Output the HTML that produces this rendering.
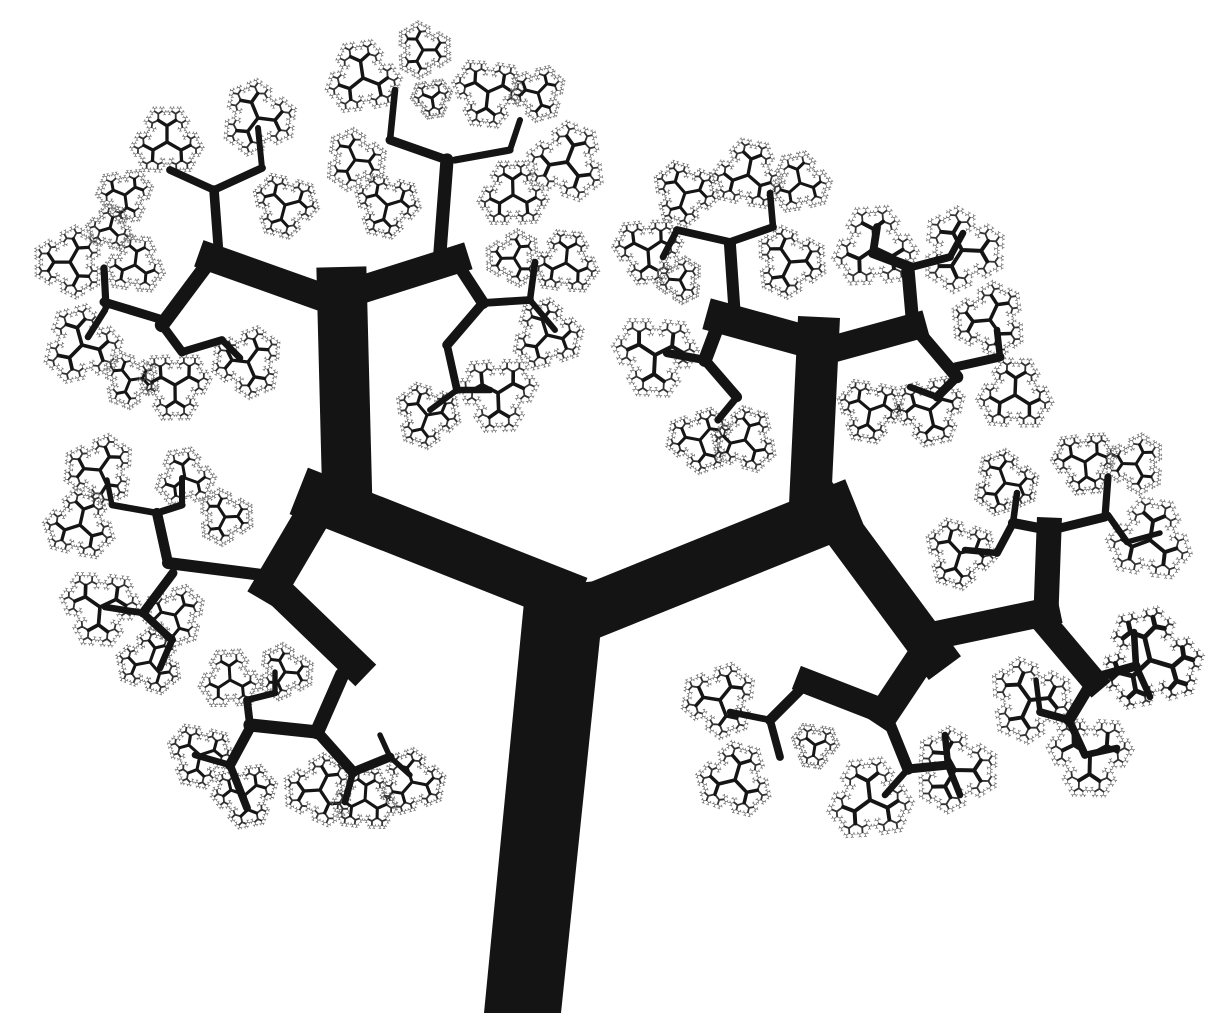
<!DOCTYPE html>
<html><head><meta charset="utf-8"><title>Fractal tree</title>
<style>html,body{margin:0;padding:0;background:#fff;}svg{display:block;}</style>
</head><body>
<svg id="s" xmlns="http://www.w3.org/2000/svg" width="1219" height="1024" viewBox="0 0 1219 1024">
<rect width="1219" height="1024" fill="#fff"/>
<g id="blobs"></g>
<g id="branches"></g>
</svg>
<script>
const trunkPts = [[484,1013],[561,1013],[606,580],[548,586],[524,602]];
const segs = [
[555,592,322,500,50],[322,500,272,585,36],[272,585,355,665,30],[347,488,342,292,50],
[330,300,212,258,28],[212,258,162,325,24],[219,257,214,190,16],[214,190,170,170,13],[214,190,262,168,13],[262,168,258,128,10],
[162,325,182,352,15],[182,352,222,340,13],[222,340,240,358,11],[163,320,104,302,15],[106,307,104,268,12],[105,310,88,337,11],
[335,298,455,260,28],[455,260,483,303,20],[483,303,447,345,16],[447,345,457,390,13],[440,252,447,160,22],[447,160,390,140,15],[390,140,395,90,11],[455,160,510,150,12],[510,150,520,120,10],
[483,303,530,300,13],[530,300,535,262,11],[530,300,555,330,10],[457,390,490,390,11],[457,390,430,410,10],
[262,575,168,563,20],[168,563,157,513,17],[157,513,182,505,12],[182,505,182,478,10],[157,513,112,505,11],[112,505,107,480,9],
[173,573,143,613,15],[143,613,172,640,13],[172,640,160,668,11],[143,613,105,607,11],
[342,675,317,732,24],[317,732,250,725,22],[250,725,247,700,13],[247,700,275,693,11],[275,693,275,672,9],
[250,728,230,765,17],[230,765,247,808,13],[230,765,195,755,11],
[320,735,353,772,18],[353,772,390,757,15],[353,772,345,802,11],[390,757,380,735,9],[390,757,410,775,9],
[612,603,830,515,55],[828,510,933,652,40],[925,652,885,712,30],[885,712,808,682,25],
[808,682,770,720,17],[770,720,780,757,13],[770,720,730,712,11],
[885,712,908,769,19],[908,769,948,765,15],[908,769,885,795,11],[948,765,945,735,11],[948,765,960,795,11],
[810,505,818,338,42],[820,345,722,318,32],[720,320,705,360,23],[705,360,737,397,17],[737,397,718,420,12],[705,360,667,353,14],
[735,318,730,245,20],[730,242,677,230,13],[730,242,773,227,13],[773,227,770,193,11],[677,230,663,257,11],
[833,349,913,327,27],[913,327,908,270,22],[910,267,873,253,17],[873,253,877,227,13],[912,267,950,257,13],[950,257,963,233,11],
[917,330,957,377,21],[957,377,937,397,15],[937,397,910,387,11],[955,367,1000,357,15],[1000,357,997,330,11],
[932,636,1046,612,28],[1046,612,1049,530,25],[1049,530,1013,523,17],[1013,523,997,553,13],[997,553,965,550,11],[1013,523,1017,493,11],
[1052,530,1105,517,15],[1105,517,1108,477,12],[1108,515,1127,542,11],[1127,542,1160,533,9],
[1044,622,1093,680,25],[1093,680,1069,720,19],[1069,720,1040,712,13],[1040,712,1036,680,9],
[1093,678,1136,666,15],[1136,666,1134,632,11],[1136,666,1150,697,11],[1069,720,1085,755,13],[1085,755,1117,748,11]
];
const blobX = [167,258,285,125,70,135,82,130,175,248,110, 363,423,488,538,567,513,355,387,432, 514,566,547,427,498,
100,80,185,225,100,175,150,230,285,200,245,320,365,412,
685,648,680,748,800,790,655,700,745,875,962,870,930,990,1015,
1005,960,1085,1136,1150,1150,1030,1090,720,735,870,955,815];
const blobY = [142,118,205,195,262,265,345,380,385,362,228, 78,50,92,93,162,195,160,205,98, 258,263,335,415,393,
470,525,478,517,607,615,662,680,672,755,795,790,800,782,
193,250,280,175,183,262,355,440,440,248,250,410,410,320,395,
483,553,462,464,540,660,700,755,700,780,800,770,745];
const blobR = [38,40,35,30,38,32,42,30,38,38,25, 40,30,38,30,42,37,33,35,22, 30,35,38,35,42,
38,38,32,30,42,33,35,33,30,35,35,38,35,35,
35,37,25,38,33,38,45,35,35,45,45,35,38,40,40,
35,38,35,32,45,55,45,45,40,40,45,45,25];

const NS = 'http://www.w3.org/2000/svg';
const gB = document.getElementById('branches');
const gL = document.getElementById('blobs');

const tp = document.createElementNS(NS,'polygon');
tp.setAttribute('points', trunkPts.map(p=>p.join(',')).join(' '));
tp.setAttribute('fill','#141414');


gB.appendChild(tp);

segs.forEach(function(s){
  const w = s[4] < 25 ? s[4]*0.6 : s[4];
  const l = document.createElementNS(NS,'line');
  l.setAttribute('x1',s[0]);l.setAttribute('y1',s[1]);l.setAttribute('x2',s[2]);l.setAttribute('y2',s[3]);
  l.setAttribute('stroke','#141414');l.setAttribute('stroke-width',w);
  l.setAttribute('stroke-linecap', w>20?'square':'round');
  
  
  gB.appendChild(l);
});

let pathDark = '', pathMid = '', pathLight = '';
function mini(x,y,a,len,w,d){
  const x2 = x + Math.sin(a)*len, y2 = y - Math.cos(a)*len;
  const seg = 'M'+x.toFixed(1)+' '+y.toFixed(1)+'L'+x2.toFixed(1)+' '+y2.toFixed(1);
  if (w > 2.6) pathDark += seg; else if (w > 1.2) pathMid += seg; else pathLight += seg;
  if (d > 0){
    mini(x2,y2,a-1.0,len*0.64,w*0.64,d-1);
    mini(x2,y2,a+1.0,len*0.64,w*0.64,d-1);
  }
}
for (let i=0;i<blobX.length;i++){
  const cx = blobX[i], cy = blobY[i], r = blobR[i]*1.25;
  const rot = (i*1.7) % (Math.PI*2);
  pathDark=''; pathMid=''; pathLight='';
  for (let k=0;k<3;k++){
    mini(cx,cy,rot+k*2*Math.PI/3, r*0.34, r*0.11, 6);
  }
  const g = document.createElementNS(NS,'g');
  
  
  [[pathLight,'#707070',0.8],[pathMid,'#333',1.8],[pathDark,'#151515',Math.max(3,r*0.07)]].forEach(function(p){
    const e = document.createElementNS(NS,'path');
    e.setAttribute('d',p[0]);e.setAttribute('stroke',p[1]);e.setAttribute('stroke-width',p[2]);
    e.setAttribute('fill','none');e.setAttribute('stroke-linecap','round');
    
    
    g.appendChild(e);
  });
  gL.appendChild(g);
}
</script>
</body></html>
